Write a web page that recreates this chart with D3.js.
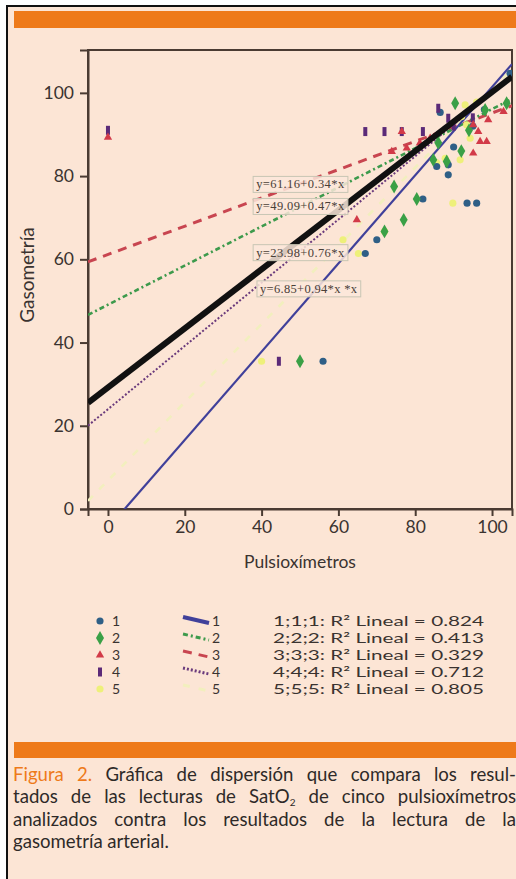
<!DOCTYPE html>
<html><head><meta charset="utf-8">
<script src="https://cdn.jsdelivr.net/npm/d3@7"></script>
<style>
html,body{margin:0;padding:0;background:#fff;}
svg{display:block;}
</style></head>
<body>
<script>
// ---------- DATA ----------
const seriesNames = ["1","2","3","4","5"];
const r2Values = ["0.824","0.413","0.329","0.712","0.805"];
const fitIntercepts = [-4.6, 49.09, 61.16, 23.98, 6.85];
const fitSlopes = [1.06, 0.47, 0.34, 0.76, 0.94];
const totalFit = {intercept: 29.2, slope: 0.71};
const xTicks = [0,20,40,60,80,100];
const yTicks = [0,20,40,60,80,100];

const s1x = [56, 67, 70, 82, 85.6, 88.6, 88.6, 86.5, 93.5, 96, 90, 95, 98, 104.7];
const s1y = [35.5, 61.4, 64.7, 74.5, 82.3, 80.3, 82.7, 95.3, 73.5, 73.5, 87, 92, 96, 104.7];
const s2x = [50, 74.5, 80.4, 77, 72, 84.7, 88.2, 90.4, 98.2, 103.8, 86, 94, 92];
const s2y = [35.5, 77.5, 74.5, 69.5, 66.7, 83.9, 83.5, 97.5, 95.9, 97.5, 88, 91, 86];
const s3x = [0, 64.8, 73.9, 77.8, 81.2, 83.9, 95.1, 96.4, 96.9, 98.6, 95.1, 99, 103, 76.5];
const s3y = [89.3, 69.5, 85.9, 86.7, 87.9, 89.1, 92.3, 90.7, 88.3, 88.3, 85.5, 93.5, 95.5, 90.7];
const s4x = [0, 44.5, 67, 72, 76.5, 86, 88.6, 82, 90, 95];
const s4y = [91, 35.5, 90.7, 90.7, 90.7, 96.3, 93.9, 90.7, 92, 94];
const s5x = [40, 65.2, 61.2, 72, 89.8, 85.6, 87.8, 91.7, 92.1, 93.4, 93, 96, 94.3];
const s5y = [35.5, 61.4, 64.7, 66.7, 73.5, 83.2, 84.3, 83.9, 94.3, 92.3, 97.1, 97.8, 89.1];

const eqLabels = ["y=61.16+0.34*x", "y=49.09+0.47*x", "y=23.98+0.76*x", "y=6.85+0.94*x *x"];
const eqLabelX = [37.8, 37.8, 37.8, 38.8];
const eqLabelY = [78.0, 72.7, 61.6, 52.9];

const legendTexts = seriesNames.map((s,i)=>`${s};${s};${s}: R² Lineal = ${r2Values[i]}`);
const captionLines = [
 "Figura 2. Gráfica de dispersión que compara los resul-",
 "tados de las lecturas de SatO_2 de cinco pulsioxímetros",
 "analizados contra los resultados de la lectura de la",
 "gasometría arterial."
];
const captionHighlight = ["Figura","2."];

// ---------- STYLE ----------
const W=516,H=879;
const bg="#fce5d5", orange="#ee7a1a", ink="#3a3330", axisCol="#4a3b32";
const colors = ["#2f5f86","#3aa046","#d23a48","#5b2a78","#eef07a"];
const lineColors = ["#40409a","#3d9a4c","#c84550","#6a3a7c","#f2efbe"];
const dashes = [null,"5,3,2,3","9,7","2,2","7,9"];
const lineWidths = [2.2,2.6,3,2,2.6];

const svg=d3.select("body").append("svg").attr("width",W).attr("height",H);
svg.append("rect").attr("width",W).attr("height",H).attr("fill","#fff");
svg.append("rect").attr("x",8).attr("y",7).attr("width",W-8).attr("height",H-7).attr("fill",bg);
svg.append("line").attr("x1",7).attr("x2",7).attr("y1",6).attr("y2",H).attr("stroke","#111").attr("stroke-width",2);
svg.append("line").attr("x1",6).attr("x2",W).attr("y1",6).attr("y2",6).attr("stroke","#111").attr("stroke-width",2);
svg.append("rect").attr("x",14).attr("y",11).attr("width",W-14).attr("height",17).attr("fill",orange);
svg.append("rect").attr("x",14).attr("y",742).attr("width",W-14).attr("height",16).attr("fill",orange);

const L=88,R=512,T=50,B=509;
const x=d3.scaleLinear().domain([-5.2,105.2]).range([L,R]);
const y=d3.scaleLinear().domain([0,110.3]).range([B,T]);

svg.append("defs").append("clipPath").attr("id","clip")
  .append("rect").attr("x",L).attr("y",T).attr("width",R-L).attr("height",B-T);

const font="Lato, 'Open Sans', sans-serif";

// Frame
svg.append("rect").attr("x",L).attr("y",T).attr("width",R-L).attr("height",B-T)
  .attr("fill","none").attr("stroke",axisCol).attr("stroke-width",2);

// Axes
const gx=svg.append("g").attr("transform",`translate(0,${B})`)
  .call(d3.axisBottom(x).tickValues(xTicks).tickSize(7).tickPadding(5).tickFormat(d3.format("d")));
const gy=svg.append("g").attr("transform",`translate(${L},0)`)
  .call(d3.axisLeft(y).tickValues(yTicks).tickSize(8).tickPadding(6).tickFormat(d3.format("d")));
[gx,gy].forEach(g=>{
  g.select(".domain").attr("stroke",axisCol).attr("stroke-width",2);
  g.selectAll(".tick line").attr("stroke",axisCol).attr("stroke-width",2);
  g.selectAll(".tick text").attr("fill",ink).attr("font-family",font).attr("font-size",17.5);
});

svg.append("text").attr("x",(L+R)/2).attr("y",568).attr("text-anchor","middle")
  .attr("font-family",font).attr("font-size",17.5).attr("fill",ink).text("Pulsioxímetros");
svg.append("text").attr("transform","translate(34,275) rotate(-90)").attr("text-anchor","middle")
  .attr("font-family",font).attr("font-size",19).attr("fill",ink).text("Gasometría");

// Fit lines
const plot=svg.append("g").attr("clip-path","url(#clip)");
const xd=x.domain();
const lineGen=d3.line().x(d=>x(d[0])).y(d=>y(d[1]));
[4,3,2,1,0].forEach(i=>{
  const pts=xd.map(v=>[v,fitIntercepts[i]+fitSlopes[i]*v]);
  plot.append("path").attr("d",lineGen(pts)).attr("fill","none")
    .attr("stroke",lineColors[i]).attr("stroke-width",lineWidths[i])
    .attr("stroke-dasharray",dashes[i]);
});

// Markers
const symbolTypes=[d3.symbolCircle,d3.symbolDiamond,d3.symbolTriangle,null,d3.symbolCircle];
const symbolSizes=[40,55,30,0,40];
function drawMarker(g,i,px,py){
  if(i===3){
    g.append("rect").attr("x",px-2).attr("y",py-4.5).attr("width",4).attr("height",9)
      .attr("fill",colors[3]);
  } else {
    g.append("path").attr("d",d3.symbol().type(symbolTypes[i]).size(symbolSizes[i])())
      .attr("transform",`translate(${px},${py})`).attr("fill",colors[i]);
  }
}
const sx=[s1x,s2x,s3x,s4x,s5x], sy=[s1y,s2y,s3y,s4y,s5y];
[4,0,1,3,2].forEach(i=>{
  sx[i].forEach((v,j)=>drawMarker(plot,i,x(v),y(sy[i][j])));
});

// Total fit line (thick black)
plot.append("path").attr("d",lineGen(xd.map(v=>[v,totalFit.intercept+totalFit.slope*v])))
  .attr("fill","none").attr("stroke","#111").attr("stroke-width",6);

// Equation labels
eqLabels.forEach((t,i)=>{
  const g=svg.append("g");
  const tx=g.append("text").attr("x",x(eqLabelX[i])+3).attr("y",y(eqLabelY[i])+4)
    .attr("font-family","'Liberation Serif', serif").attr("font-size",12.5).attr("fill","#4a4038")
    .attr("textLength",t.length>14?97:88).attr("lengthAdjust","spacing").text(t);
  const bb=tx.node().getBBox();
  g.insert("rect","text").attr("x",bb.x-3).attr("y",bb.y-1).attr("width",bb.width+6).attr("height",bb.height+2)
    .attr("fill","rgba(252,232,218,0.85)").attr("stroke","#c8c6b4").attr("stroke-width",1);
});

// Legend
const rowY=[621,638,655,672,689];
const lfs=14;
seriesNames.forEach((s,i)=>{
  drawMarker(svg,i,100,rowY[i]);
  svg.append("text").attr("x",112).attr("y",rowY[i]+5).attr("font-family",font).attr("font-size",lfs)
    .attr("fill",ink).text(s);
  svg.append("line").attr("x1",183).attr("x2",209).attr("y1",rowY[i]-4).attr("y2",rowY[i]+2)
    .attr("stroke",lineColors[i]).attr("stroke-width",i===0?4:3).attr("stroke-dasharray",dashes[i]);
  svg.append("text").attr("x",212).attr("y",rowY[i]+5).attr("font-family",font).attr("font-size",lfs)
    .attr("fill",ink).text(s);
  svg.append("text").attr("x",273).attr("y",rowY[i]+5).attr("font-family",font).attr("font-size",lfs)
    .attr("fill",ink).attr("textLength",211).attr("lengthAdjust","spacingAndGlyphs").text(legendTexts[i]);
});

// Caption (justified by word spacing)
const capY=[781,803,826,848];
const cfs=18.6, capLeft=13, capWidth=503;
const capG=svg.append("g").attr("transform",`translate(${capLeft},0)`);
function addWord(g,word,px,py){
  const t=g.append("text").attr("x",px).attr("y",py).attr("font-family",font)
    .attr("font-size",cfs).attr("fill",captionHighlight.includes(word)?orange:"#2e2a28");
  if(word.includes("_")){
    const [a,b]=word.split("_");
    t.append("tspan").text(a);
    t.append("tspan").attr("font-size",10).attr("dy",3).text(b);
  } else t.text(word);
  return t;
}
captionLines.forEach((line,li)=>{
  const words=line.split(" ");
  const els=words.map(w=>addWord(capG,w,0,capY[li]));
  const widths=els.map(e=>e.node().getBBox().width);
  const total=d3.sum(widths);
  const gap= li<3 ? Math.max(3,(capWidth-total)/(words.length-1)) : cfs*0.24;
  let cx=0;
  els.forEach((e,j)=>{e.attr("x",cx); cx+=widths[j]+gap;});
});
</script>
</body></html>
